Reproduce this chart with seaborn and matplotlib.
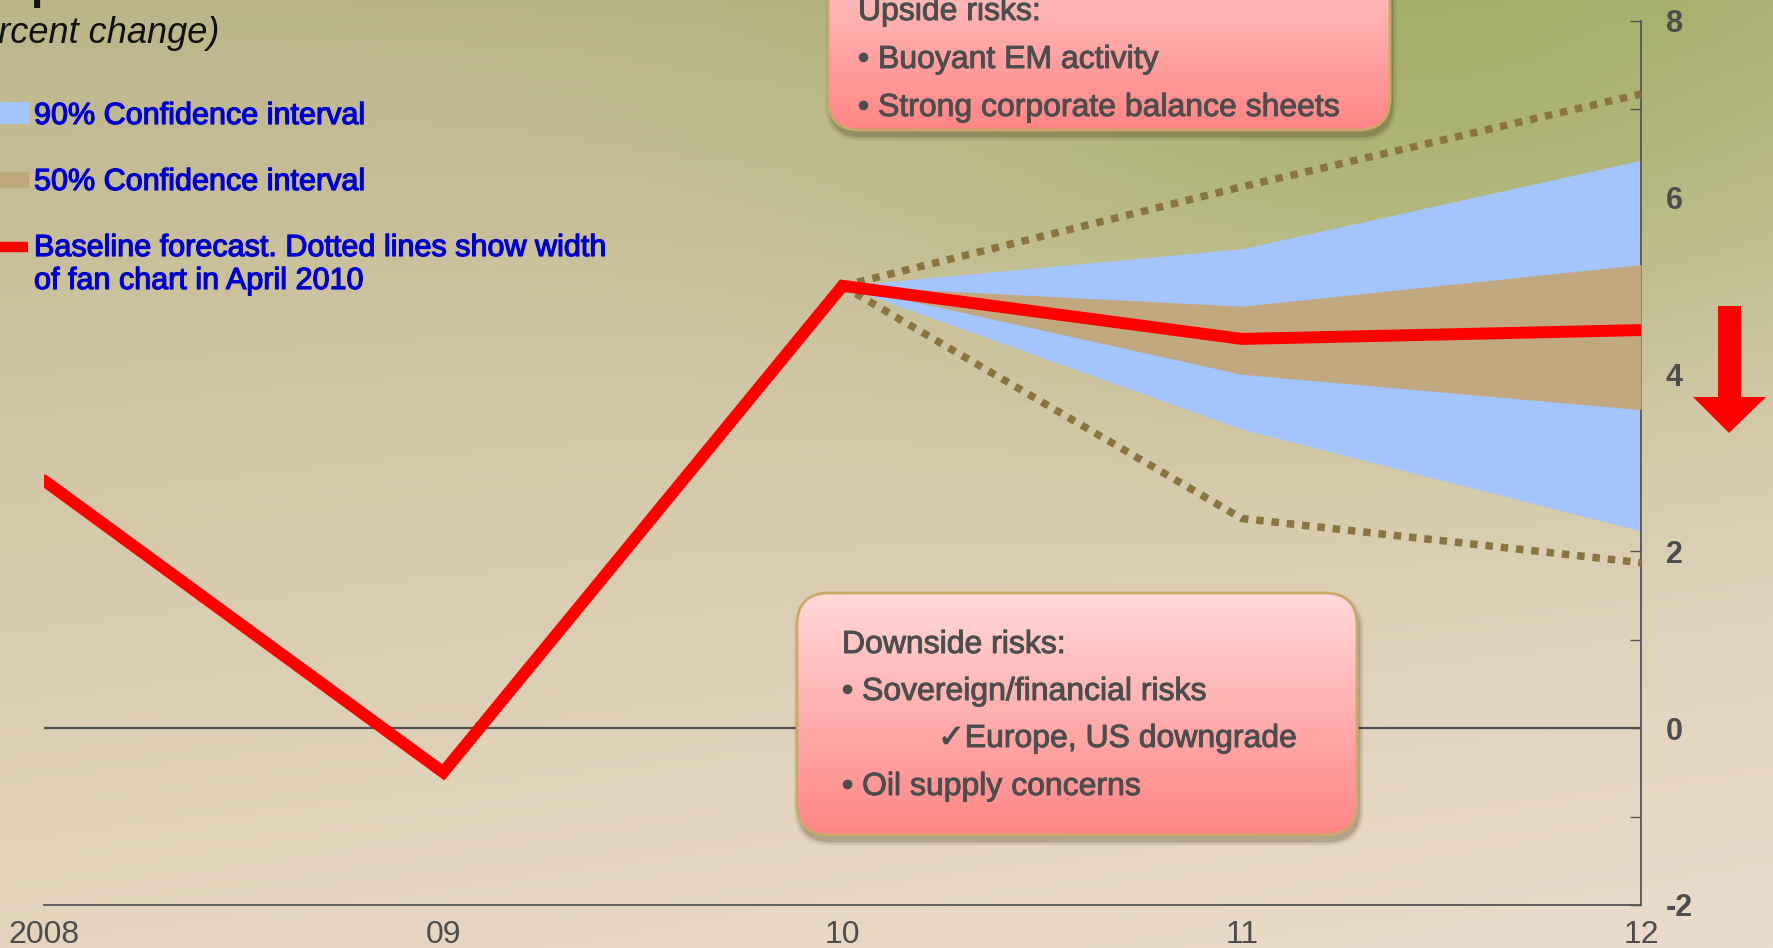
import numpy as np
import pandas as pd
import matplotlib
matplotlib.use("Agg")
import matplotlib.pyplot as plt
import matplotlib.patheffects as pe
import seaborn as sns
from matplotlib.patches import FancyBboxPatch, Polygon, Rectangle

# ---------------- data ----------------
years = [2008, 2009, 2010, 2011, 2012]
baseline = [2.8, -0.5, 5.0, 4.4, 4.5]
fan_years = [2010, 2011, 2012]
ci90_low = [5.0, 3.38, 2.23]
ci90_high = [5.0, 5.42, 6.42]
ci50_low = [5.0, 4.0, 3.6]
ci50_high = [5.0, 4.77, 5.24]
apr2010_low = [5.0, 2.37, 1.87]
apr2010_high = [5.0, 6.12, 7.17]
x_tick_labels = ["2008", "09", "10", "11", "12"]
y_ticks = [-2, 0, 2, 4, 6, 8]
legend_labels = ["90% Confidence interval", "50% Confidence interval",
                 "Baseline forecast. Dotted lines show width\nof fan chart in April 2010"]
upside_lines = ["Upside risks:", "\u2022 Buoyant EM activity", "\u2022 Strong corporate balance sheets"]
downside_lines = ["Downside risks:", "\u2022 Sovereign/financial risks",
                  "\u2713Europe, US downgrade", "\u2022 Oil supply concerns"]
subtitle = "(percent change)"

# ---------------- style ----------------
sns.set_theme(style="white")
plt.rcParams["font.family"] = ["Liberation Sans", "DejaVu Sans"]
plt.rcParams["axes.unicode_minus"] = False

W, H = 1773, 948
fig = plt.figure(figsize=(W / 100, H / 100), dpi=100)

# background gradient
bg = fig.add_axes([0, 0, 1, 1], zorder=0)
yy, xx = np.mgrid[0:H, 0:W].astype(float)
t = (yy / H)[..., None]
top_c = np.array([186, 180, 136.0])
bot_c = np.array([229, 213, 190.0])
img = top_c + (bot_c - top_c) * t ** 0.8
pink = np.array([240, 224, 214.0])
wp = (0.55 * (xx / W) * (yy / H))[..., None]
img = img * (1 - wp) + pink * wp
green = np.array([156, 174, 92.0])
wg = (0.72 * np.exp(-((xx - 1420) / 520) ** 2 - (yy / 330) ** 2))[..., None]
img = img * (1 - wg) + green * wg
bg.imshow(np.clip(img, 0, 255).astype(np.uint8), aspect="auto", extent=(0, W, H, 0))
bg.set_xlim(0, W)
bg.set_ylim(H, 0)
bg.axis("off")

# ---------------- main chart ----------------
ax = fig.add_axes([44 / W, 1 - 905 / H, (1641 - 44) / W, (905 - 20.5) / H], zorder=1)
ax.patch.set_alpha(0)

fan = pd.DataFrame({"year": fan_years, "lo90": ci90_low, "hi90": ci90_high,
                    "lo50": ci50_low, "hi50": ci50_high,
                    "aprlo": apr2010_low, "aprhi": apr2010_high})
base_df = pd.DataFrame({"year": years, "value": baseline})

ax.axhline(0, color="#505050", lw=1.6, zorder=1)
ax.fill_between(fan["year"], fan["lo90"], fan["hi90"], color="#a3c4fd", lw=0, zorder=2)
ax.fill_between(fan["year"], fan["lo50"], fan["hi50"], color="#c2a87e", lw=0, zorder=3)
for col in ["aprhi", "aprlo"]:
    sns.lineplot(data=fan, x="year", y=col, ax=ax, color="#8a7440", lw=5.4,
                 linestyle=(0, (1, 1.05)), dash_capstyle="butt", zorder=4)
sns.lineplot(data=base_df, x="year", y="value", ax=ax, color="#ff0000", lw=8.6,
             solid_joinstyle="miter", zorder=5)

ax.set_xlim(2008, 2012)
ax.set_ylim(-2, 8)
ax.set_xlabel("")
ax.set_ylabel("")
for s in ["left", "top"]:
    ax.spines[s].set_visible(False)
for s in ["bottom", "right"]:
    ax.spines[s].set_visible(True)
    ax.spines[s].set_color("#555555")
    ax.spines[s].set_linewidth(1.3)

ax.set_xticks(years)
ax.set_xticklabels(x_tick_labels)
ax.tick_params(axis="x", direction="in", length=9, width=1.0, color="#555555",
               pad=11, labelsize=23, labelcolor="#4d4d4d")
for i, tk in enumerate(ax.xaxis.get_major_ticks()):
    if i >= 3:
        tk.tick1line.set_visible(False)

ax.yaxis.tick_right()
ax.set_yticks(y_ticks)
ax.set_yticks([-1, 1, 3, 5, 7], minor=True)
ax.tick_params(axis="y", which="both", direction="in", length=8, width=1.0,
               color="#555555", pad=18, labelsize=22, labelcolor="#4d4d4d")
for lab in ax.get_yticklabels():
    lab.set_fontweight("bold")
ax.grid(False)

# ---------------- overlay (annotations) ----------------
ov = fig.add_axes([0, 0, 1, 1], zorder=2)
ov.patch.set_alpha(0)
ov.set_xlim(0, W)
ov.set_ylim(H, 0)
ov.axis("off")

txt_col = "#4d4d4d"


def heavy(color, w=0.7):
    return [pe.withStroke(linewidth=w, foreground=color)]


def risk_box(x0, y0, x1, y1, r=32):
    for k, a in zip([10, 7, 4, 2], [0.05, 0.07, 0.09, 0.12]):
        sh = FancyBboxPatch((x0 + 2 - k / 2, y0 + 6 - k / 2), x1 - x0 + k, y1 - y0 + k,
                            boxstyle=f"round,pad=0,rounding_size={r + k / 2}",
                            fc="#3a2a10", ec="none", alpha=a, zorder=5)
        ov.add_patch(sh)
    box = FancyBboxPatch((x0, y0), x1 - x0, y1 - y0,
                         boxstyle=f"round,pad=0,rounding_size={r}",
                         fc="none", ec="#c9a86a", lw=2.0, zorder=7)
    ov.add_patch(box)
    grad = np.linspace(0, 1, 256)[:, None, None]
    topc = np.array([1.0, 0.85, 0.85])
    botc = np.array([1.0, 0.52, 0.52])
    g = topc + (botc - topc) * grad
    im = ov.imshow(g, extent=(x0, x1, y1, y0), aspect="auto", zorder=6)
    im.set_clip_path(box)


risk_box(828, -80, 1390, 130)
risk_box(797, 593, 1357, 835)
ov.set_xlim(0, W)
ov.set_ylim(H, 0)

fs_box = 23
box_kw = dict(fontsize=fs_box, color=txt_col, va="baseline", zorder=8,
              path_effects=heavy(txt_col))
ov.text(858, 20, upside_lines[0], **box_kw)
ov.text(858, 68, upside_lines[1], **box_kw)
ov.text(858, 116, upside_lines[2], **box_kw)

ov.text(842, 653, downside_lines[0], **box_kw)
ov.text(842, 700, downside_lines[1], **box_kw)
ov.text(938, 747, downside_lines[2], family=["Liberation Sans", "DejaVu Sans"], **box_kw)
ov.text(842, 795, downside_lines[3], **box_kw)

# legend
leg_col = "#0000cc"
leg_kw = dict(fontsize=22, color=leg_col, va="baseline", zorder=8, path_effects=heavy(leg_col, 0.9))
ov.add_patch(Rectangle((-5, 102), 35, 22, fc="#a3c4fd", ec="none", zorder=8))
ov.add_patch(Rectangle((-5, 172), 34, 16, fc="#c2a87e", ec="none", zorder=8))
ov.plot([-5, 28], [246.5, 246.5], color="#ff0000", lw=7.5, solid_capstyle="butt", zorder=8)
ov.text(34, 124, legend_labels[0], **leg_kw)
ov.text(34, 190, legend_labels[1], **leg_kw)
ov.text(34, 256, legend_labels[2].split("\n")[0], **leg_kw)
ov.text(34, 289, legend_labels[2].split("\n")[1], **leg_kw)

# subtitle / title fragment (cut off at figure edge as in the reference)
ov.text(219, 43, subtitle, fontsize=26, style="italic", color="#111111", ha="right",
        va="baseline", zorder=8)
ov.text(30, -1, "p", fontsize=32, fontweight="bold", color="#111111", va="baseline", zorder=8)

# red down arrow
ov.add_patch(Polygon([(1718, 306), (1741, 306), (1741, 397), (1766, 397), (1729, 433),
                      (1693, 397), (1718, 397)], closed=True, fc="#ff0000", ec="none", zorder=8))
ov.set_xlim(0, W)
ov.set_ylim(H, 0)

fig.savefig("out.png", dpi=100)
